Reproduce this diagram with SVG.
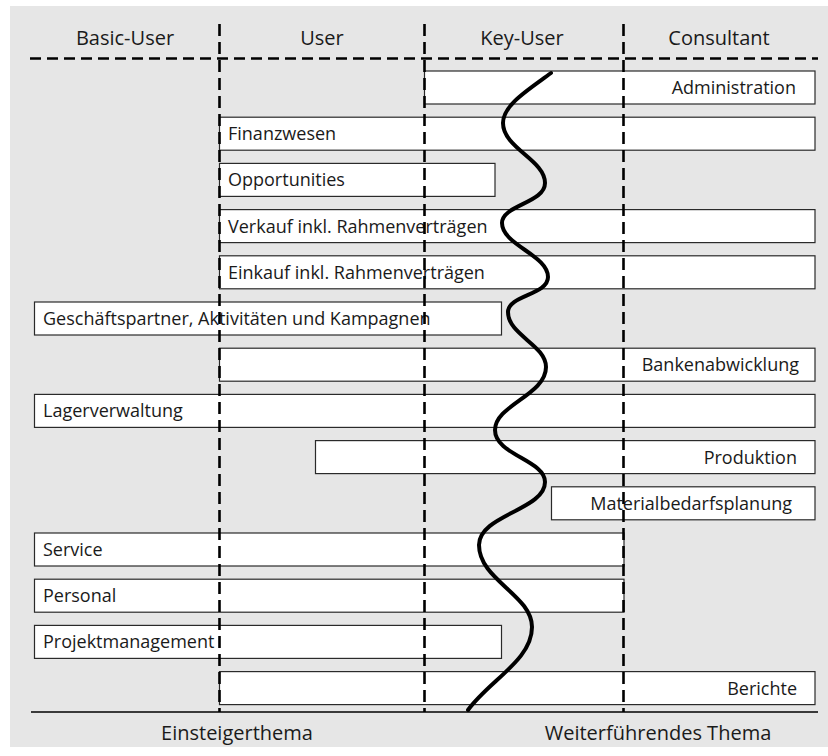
<svg xmlns="http://www.w3.org/2000/svg" width="828" height="756" viewBox="0 0 828 756">
<style>
.bg{fill:#e6e6e6}
.box{fill:#fff;stroke:#2a2a2a;stroke-width:1.2}
.t{font-family:"Open Sans","Noto Sans",sans-serif;font-size:18px;fill:#1a1a1a}
.r{text-anchor:end}
.h{font-family:"Open Sans","Noto Sans",sans-serif;font-size:20px;fill:#1a1a1a;text-anchor:middle}
.dh{stroke:#000;stroke-width:2.6;stroke-dasharray:11 6;fill:none}
.dv{stroke:#000;stroke-width:2.6;stroke-dasharray:12 6;fill:none}
.base{stroke:#000;stroke-width:1.6}
.wave{fill:none;stroke:#000;stroke-width:4;stroke-linecap:round}
</style>
<rect class="bg" x="10" y="6" width="818" height="741"/>
<g id="header">
<text class="h" x="125" y="45">Basic-User</text>
<text class="h" x="322" y="45">User</text>
<text class="h" x="522" y="45">Key-User</text>
<text class="h" x="719" y="45">Consultant</text>
</g>
<g id="nodes">
<g id="administration"><rect class="box" x="424.5" y="71" width="390.5" height="33"/><text class="t r" x="796" y="94">Administration</text></g>
<g id="finanzwesen"><rect class="box" x="219.5" y="117.2" width="595.5" height="33"/><text class="t" x="228" y="140.2">Finanzwesen</text></g>
<g id="opportunities"><rect class="box" x="219.5" y="163.4" width="275.5" height="33"/><text class="t" x="228" y="186.4">Opportunities</text></g>
<g id="verkauf"><rect class="box" x="219.5" y="209.6" width="595.5" height="33"/><text class="t" x="228" y="232.6">Verkauf inkl. Rahmenverträgen</text></g>
<g id="einkauf"><rect class="box" x="219.5" y="255.8" width="595.5" height="33"/><text class="t" x="228" y="278.8">Einkauf inkl. Rahmenverträgen</text></g>
<g id="geschaeftspartner"><rect class="box" x="34.5" y="302" width="467" height="33"/><text class="t" x="43" y="325">Geschäftspartner, Aktivitäten und Kampagnen</text></g>
<g id="bankenabwicklung"><rect class="box" x="219.5" y="348.2" width="595.5" height="33"/><text class="t r" x="799" y="371.2">Bankenabwicklung</text></g>
<g id="lagerverwaltung"><rect class="box" x="34.5" y="394.4" width="780.5" height="33"/><text class="t" x="43" y="417.4">Lagerverwaltung</text></g>
<g id="produktion"><rect class="box" x="315.5" y="440.6" width="499.5" height="33"/><text class="t r" x="797" y="463.6">Produktion</text></g>
<g id="materialbedarfsplanung"><rect class="box" x="551.5" y="486.8" width="263.5" height="33"/><text class="t r" x="792" y="509.8">Materialbedarfsplanung</text></g>
<g id="service"><rect class="box" x="34.5" y="533" width="589.5" height="33"/><text class="t" x="43" y="556">Service</text></g>
<g id="personal"><rect class="box" x="34.5" y="579.2" width="589.5" height="33"/><text class="t" x="43" y="602.2">Personal</text></g>
<g id="projektmanagement"><rect class="box" x="34.5" y="625.4" width="467" height="33"/><text class="t" x="43" y="648.4">Projektmanagement</text></g>
<g id="berichte"><rect class="box" x="219.5" y="671.6" width="595.5" height="33"/><text class="t r" x="797" y="694.6">Berichte</text></g>
</g>
<g id="connectors">
<line class="dh" x1="30" y1="58.5" x2="818" y2="58.5"/>
<line class="dv" x1="219.5" y1="24" x2="219.5" y2="712"/>
<line class="dv" x1="424.5" y1="24" x2="424.5" y2="712"/>
<line class="dv" x1="623.5" y1="24" x2="623.5" y2="712"/>
<line class="base" x1="31" y1="712" x2="818" y2="712"/>
<path class="wave" d="M551,73 C528,90 503,105 503,123 C503,148 545,160 545,183 C545,203 502,205 502,223 C502,245 548,255 548,277 C548,295 508,295 508,312 C508,335 546,345 546,367 C546,395 495,405 495,430 C495,455 545,460 545,482 C545,510 479,515 479,545 C479,580 532,595 532,627 C532,660 490,680 468,710"/>
</g>
<g id="footer">
<text class="h" x="237" y="740">Einsteigerthema</text>
<text class="h" x="658" y="740">Weiterführendes Thema</text>
</g>
</svg>
